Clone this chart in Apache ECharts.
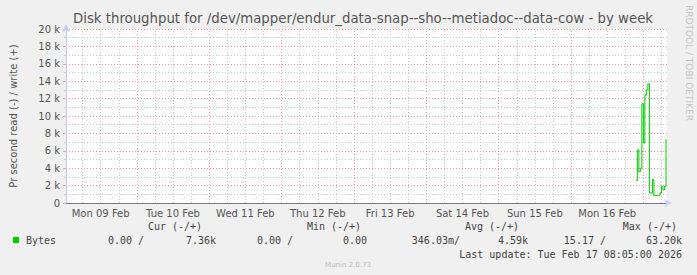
<!DOCTYPE html>
<html><head><meta charset="utf-8">
<script src="https://cdn.jsdelivr.net/npm/echarts@6/dist/echarts.min.js"></script>
<style>html,body{margin:0;padding:0;background:#f0f0f0;}#c{width:697px;height:275px;}</style>
</head><body><div id="c"></div>
<script>
// ---- data ----
const times = ['2026-02-16T21:30','2026-02-16T22:00','2026-02-16T22:30','2026-02-16T23:00','2026-02-16T23:30',
  '2026-02-17T00:00','2026-02-17T00:30','2026-02-17T01:00','2026-02-17T01:30','2026-02-17T02:00',
  '2026-02-17T02:30','2026-02-17T03:00','2026-02-17T03:30','2026-02-17T04:00','2026-02-17T04:30',
  '2026-02-17T05:00','2026-02-17T05:30','2026-02-17T06:00','2026-02-17T06:30','2026-02-17T07:00','2026-02-17T07:30'];
const bytes = [2560, 6100, 3600, 4000, 11400, 6900, 12400, 13000, 13700, 1150,
  1150, 2700, 850, 840, 840, 850, 1150, 1900, 1500, 1900, 7360];
const dayLabels = ['Mon 09 Feb','Tue 10 Feb','Wed 11 Feb','Thu 12 Feb','Fri 13 Feb','Sat 14 Feb','Sun 15 Feb','Mon 16 Feb'];
const yTicks = [0, 2000, 4000, 6000, 8000, 10000, 12000, 14000, 16000, 18000, 20000];
const legendHeaders = ['Cur (-/+)', 'Min (-/+)', 'Avg (-/+)', 'Max (-/+)'];
const legendValues = ['0.00 /', '7.36k', '0.00 /', '0.00', '346.03m/', '4.59k', '15.17 /', '63.20k'];
const titleText = 'Disk throughput for /dev/mapper/endur_data-snap--sho--metiadoc--data-cow - by week';
const yName = 'Pr second read (-) / write (+)';
const lastUpdate = 'Last update: Tue Feb 17 08:05:00 2026';

const H = 3600 * 1000;
const xMin = Date.UTC(2026, 1, 9, 0, 30);
const xMax = Date.UTC(2026, 1, 17, 7, 50);
const toMs = s => new Date(s + ':00Z').getTime();
const seriesData = times.map((t, i) => [toMs(t), bytes[i]]);
const labelVals = dayLabels.map((d, i) => Date.UTC(2026, 1, 9 + i, 12, 0));
const majorV = [], minorV = [];
for (let t = Date.UTC(2026, 1, 9, 6); t <= xMax; t += 6 * H) {
  if (new Date(t).getUTCHours() === 0) majorV.push(t); else minorV.push(t);
}
const RED = '#eea0a0';
const GREY = '#c8c8c8';
const mono = 'DejaVu Sans Mono';
const sans = 'DejaVu Sans';

const chart = echarts.init(document.getElementById('c'), null, {renderer: 'svg'});
const txt = (x, y, text, align, opts) => Object.assign({
  type: 'text', x: x, y: y,
  style: Object.assign({text: text, fill: '#444', font: '10px ' + mono, textAlign: align, textVerticalAlign: 'middle'}, (opts || {}))
});
const graphics = [
  txt(363, 18, titleText, 'center', {font: '13.3px ' + sans, fill: '#555'}),
  txt(175, 226, legendHeaders[0], 'center'),
  txt(334, 226, legendHeaders[1], 'center'),
  txt(492, 226, legendHeaders[2], 'center'),
  txt(677, 226, legendHeaders[3], 'right'),
  {type: 'rect', shape: {x: 13, y: 237, width: 6, height: 6}, style: {fill: '#00cc00'}},
  txt(26, 240, 'Bytes', 'left'),
  txt(144, 240, legendValues[0], 'right'),
  txt(216, 240, legendValues[1], 'right'),
  txt(293, 240, legendValues[2], 'right'),
  txt(367, 240, legendValues[3], 'right'),
  txt(460, 240, legendValues[4], 'right'),
  txt(528, 240, legendValues[5], 'right'),
  txt(606, 240, legendValues[6], 'right'),
  txt(682, 240, legendValues[7], 'right'),
  txt(682, 254, lastUpdate, 'right'),
  txt(348, 265, 'Munin 2.0.73', 'center', {font: '7px ' + sans, fill: '#bbb'}),
  {type: 'text', x: 689, y: 5, rotation: -Math.PI / 2,
   style: {text: 'RRDTOOL / TOBI OETIKER', fill: '#c4c4c4', font: '9px ' + sans, textAlign: 'left', textVerticalAlign: 'middle'}}
];

chart.setOption({
  backgroundColor: '#f0f0f0',
  animation: false,
  grid: {left: 66, right: 30, top: 29, bottom: 72, show: true, backgroundColor: '#ffffff', borderWidth: 0},
  xAxis: [{
    type: 'value', min: xMin, max: xMax, position: 'bottom',
    axisLine: {show: true, onZero: false, lineStyle: {color: '#c8d0f8', width: 1}, symbol: ['none', 'arrow'], symbolSize: [6, 8], symbolOffset: [0, 5]},
    axisTick: {show: false}, splitLine: {show: false}, axisLabel: {show: false}
  }, {
    type: 'value', min: xMin, max: xMax, position: 'bottom',
    axisLine: {show: true, onZero: false, lineStyle: {color: '#77778a', width: 1}},
    axisTick: {show: false}, splitLine: {show: false},
    axisLabel: {show: true, customValues: labelVals, margin: 5, color: '#555', fontFamily: sans, fontSize: 10,
      formatter: v => { const i = labelVals.indexOf(v); return i >= 0 ? dayLabels[i] : ''; }}
  }],
  yAxis: {
    type: 'value', min: yTicks[0], max: yTicks[yTicks.length - 1], interval: 2000,
    name: yName, nameLocation: 'middle', nameGap: 48, nameRotate: 90,
    nameTextStyle: {color: '#555', fontFamily: sans, fontSize: 10},
    axisLine: {show: true, lineStyle: {color: '#c8c8f0'}, symbol: ['none', 'arrow'], symbolSize: [6, 8], symbolOffset: [0, 5]},
    axisTick: {show: true, length: 3, lineStyle: {color: RED}},
    minorTick: {show: true, splitNumber: 2, length: 2, lineStyle: {color: GREY}},
    axisLabel: {color: '#555', fontFamily: sans, fontSize: 10, margin: 6,
      formatter: v => v === 0 ? '0' : (v / 1000) + ' k'},
    splitLine: {show: true, lineStyle: {color: RED, type: [1, 2], width: 1}},
    minorSplitLine: {show: true, lineStyle: {color: GREY, type: [1, 2], width: 1}}
  },
  series: [{
    type: 'line', data: [], z: 1, silent: true, xAxisIndex: 1,
    markLine: {silent: true, symbol: ['none', 'none'], label: {show: false}, animation: false,
      data: minorV.map(v => ({xAxis: v, lineStyle: {color: GREY, type: [1, 2], width: 1}}))
        .concat(majorV.map(v => ({xAxis: v, lineStyle: {color: RED, type: [1, 2], width: 1}})))}
  }, {
    name: 'Bytes', type: 'line', xAxisIndex: 1, data: seriesData, step: 'end', z: 5,
    showSymbol: false, symbol: 'none', connectNulls: false,
    lineStyle: {color: '#00cc00', width: 1}, itemStyle: {color: '#00cc00'}
  }],
  graphic: graphics
});
</script></body></html>
